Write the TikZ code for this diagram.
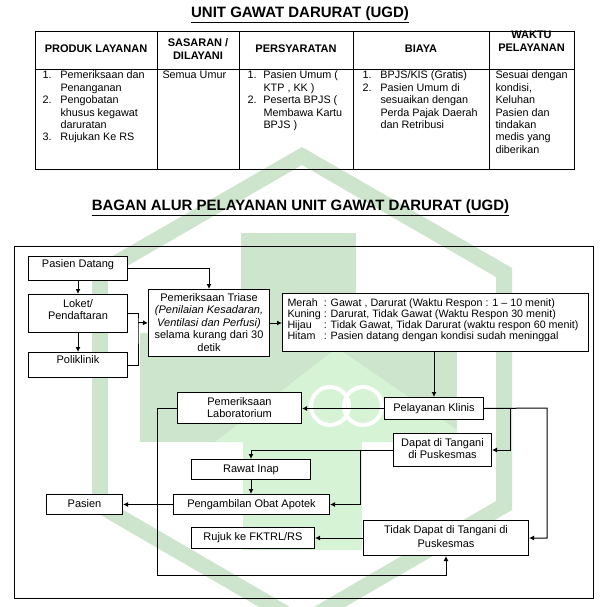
\documentclass[tikz,border=0pt]{standalone}
\usepackage{fontspec}
\setmainfont{Liberation Sans}
\usetikzlibrary{arrows.meta}
\definecolor{wmdark}{RGB}{205,229,205}
\definecolor{wmlight}{RGB}{214,243,214}
\newcommand{\rows}[1]{\begin{tabular}[t]{@{}c@{}}#1\end{tabular}}
\newcommand{\numlist}[2]{\begin{tabular}[t]{@{}p{#1}@{}l@{}}#2\end{tabular}}

\begin{document}
\begin{tikzpicture}[x=1pt,y=-1pt,line width=1pt,>={Latex[length=5pt,width=5pt]},
  flowbox/.style={draw,fill=white,inner sep=0pt,anchor=north west,font=\fontsize{11}{12.4}\selectfont},
  tcell/.style={inner sep=0pt,anchor=base west,font=\fontsize{10.8}{12.4}\selectfont},
  colhead/.style={inner sep=0pt,anchor=base,font=\bfseries\fontsize{11}{13}\selectfont},
  heading/.style={inner sep=0pt,anchor=base,font=\bfseries\fontsize{15}{18}\selectfont}]
  \useasboundingbox (0,0) rectangle (605,607);
  \fill[white] (0,0) rectangle (605,607);

  % watermark
  \begin{scope}
    \clip (0,0) rectangle (605,607);
    \fill[wmdark,even odd rule] (302,147) -- (512,268) -- (512,510) -- (302,632) -- (92,510) -- (92,268) -- cycle
      (302,165) -- (496,277) -- (496,501) -- (302,614) -- (108,501) -- (108,277) -- cycle;
    \fill[wmdark] (241,233) rectangle (356,340);
    \fill[wmdark] (140,333) rectangle (457,442);
    \fill[wmlight] (215,442) -- (337,348) -- (457,430) -- (457,442) -- cycle;
    \fill[wmlight] (243,442) rectangle (362,550);
    \draw[white,line width=4pt] (330,406) circle (19pt) (363,406) circle (19pt);
  \end{scope}

  % tabel
  \node[heading] (judul) at (300,18) {\underline{UNIT GAWAT DARURAT (UGD)}};
  \draw (35,32) rectangle (574,169);
  \draw (35,70) -- (574,70);
  \foreach \x in {157,239,353,489}
    \draw (\x,32) -- (\x,169);

  \node[colhead] (hproduk) at (96,53) {PRODUK LAYANAN};
  \node[colhead] (hsasaran) at (198,47) {\rows{SASARAN /\\DILAYANI}};
  \node[colhead] (hsyarat) at (296,53) {PERSYARATAN};
  \node[colhead] (hbiaya) at (421,53) {BIAYA};
  \node[colhead] (hwaktu) at (531.5,39) {\rows{WAKTU\\PELAYANAN}};

  \node[tcell] (produk) at (42,79) {\numlist{18pt}{1. & Pemeriksaan dan\\ & Penanganan\\ 2. & Pengobatan\\ & khusus kegawat\\ & daruratan\\ 3. & Rujukan Ke RS}};
  \node[tcell] (sasaran) at (162,79) {Semua Umur};
  \node[tcell] (syarat) at (247,79) {\numlist{16pt}{1. & Pasien Umum (\\ & KTP , KK )\\ 2. & Peserta BPJS (\\ & Membawa Kartu\\ & BPJS )}};
  \node[tcell] (biaya) at (362,79) {\numlist{18pt}{1. & BPJS/KIS (Gratis)\\ 2. & Pasien Umum di\\ & sesuaikan dengan\\ & Perda Pajak Daerah\\ & dan Retribusi}};
  \node[tcell] (waktu) at (495,79) {\begin{tabular}[t]{@{}l@{}}Sesuai dengan\\kondisi,\\Keluhan\\Pasien dan\\tindakan\\medis yang\\diberikan\end{tabular}};

  % bagan alur
  \node[heading] (judulalur) at (300.5,210.5) {\underline{BAGAN ALUR PELAYANAN UNIT GAWAT DARURAT (UGD)}};
  \draw (14,246) rectangle (593,598);

  \node[flowbox,minimum width=99pt,text height=11pt,text depth=13pt] (datang) at (28,256) {Pasien Datang};
  \node[flowbox,minimum width=99pt,text height=13pt,text depth=25pt] (loket) at (28,294) {\rows{Loket/\\Pendaftaran}};
  \node[flowbox,minimum width=99pt,text height=11pt,text depth=14pt] (poli) at (28,352) {Poliklinik};
  \node[flowbox,minimum width=121pt,text height=12pt,text depth=55pt] (triase) at (148,289)
    {\rows{Pemeriksaan Triase\\\textit{(Penilaian Kesadaran,}\\\textit{Ventilasi dan Perfusi)}\\selama kurang dari 30\\detik}};
  \node[flowbox,inner xsep=5pt,minimum width=306pt,text height=13pt,text depth=45pt,font=\fontsize{10.7}{10.5}\selectfont] (legend) at (282,293)
    {\makebox[296pt][l]{\begin{tabular}[t]{@{}l@{ : }l@{}}
      Merah & Gawat , Darurat (Waktu Respon : 1 – 10 menit)\\
      Kuning & Darurat, Tidak Gawat (Waktu Respon 30 menit)\\
      Hijau & Tidak Gawat, Tidak Darurat (waktu respon 60 menit)\\
      Hitam & Pasien datang dengan kondisi sudah meninggal
    \end{tabular}}};
  \node[flowbox,minimum width=99pt,text height=14pt,text depth=8pt] (klinis) at (384,397) {Pelayanan Klinis};
  \node[flowbox,minimum width=124pt,text height=13pt,text depth=18pt] (lab) at (177,392) {\rows{Pemeriksaan\\Laboratorium}};
  \node[flowbox,minimum width=98pt,text height=13pt,text depth=20pt] (dapat) at (393,433) {\rows{Dapat di Tangani\\di Puskesmas}};
  \node[flowbox,minimum width=119pt,text height=13pt,text depth=7pt] (rawat) at (191,459) {Rawat Inap};
  \node[flowbox,minimum width=156pt,text height=13pt,text depth=7pt] (apotek) at (173,494) {Pengambilan Obat Apotek};
  \node[flowbox,minimum width=76pt,text height=13pt,text depth=7pt] (pasien) at (46,494) {Pasien};
  \node[flowbox,minimum width=123pt,text height=13pt,text depth=8pt] (rujuk) at (191,527) {Rujuk ke FKTRL/RS};
  \node[flowbox,minimum width=165pt,text height=13pt,text depth=22pt] (tidak) at (363,520) {\rows{Tidak Dapat di Tangani di\\[1.6pt]Puskesmas}};

  \coordinate (gabung) at (138,322.5);
  \coordinate (bawah) at (157,575);
  \coordinate (kanan) at (547,408);
  \coordinate (cabang) at (510,408);
  \coordinate (cabangb) at (360,449.5);

  \draw[->] (datang.east) -| (triase.north);
  \draw[->] (datang) -- (loket);
  \draw[->] (loket) -- (poli);
  \draw (loket.east) -| (gabung) |- (poli.east);
  \draw[->] (gabung) -- (triase.west);
  \draw[->] (triase.east) -- (triase.east -| legend.west);
  \draw[->] (klinis.north |- legend.south) -- (klinis.north);
  \draw[->] (klinis.west) -- (klinis.west -| lab.east);
  \draw[->] (lab.west) -| (bawah) -| (tidak.south);
  \draw[->] (klinis.east) -- (kanan) |- (tidak.east);
  \draw[->] (cabang) |- (dapat.east);
  \draw[->] (dapat.west) -| (rawat.north);
  \draw[->] (cabangb) |- (apotek.east);
  \draw[->] (rawat.south) -- (rawat.south |- apotek.north);
  \draw[->] (apotek) -- (pasien);
  \draw[->] (tidak.west) -- (tidak.west -| rujuk.east);
\end{tikzpicture}
\end{document}
